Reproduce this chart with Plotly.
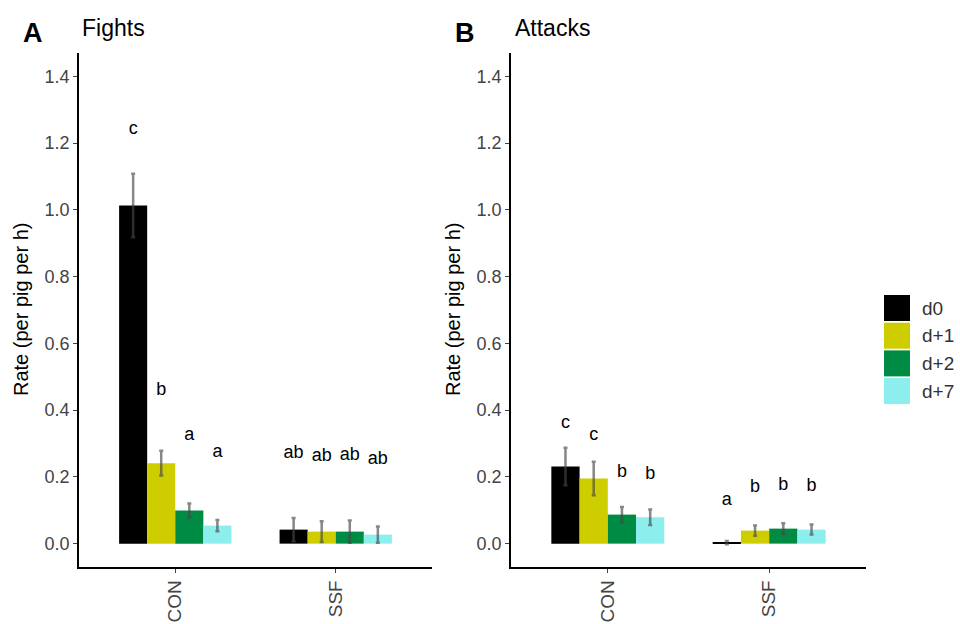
import plotly.graph_objects as go

# ---------------- data ----------------
categories = ["CON", "SSF"]
series = ["d0", "d+1", "d+2", "d+7"]
colors = ["#000000", "#CDCD00", "#008B45", "#8DEEEE"]

# Fights (panel A): mean and SE per series, [CON, SSF]
fights_mean = {"d0": [1.013, 0.042], "d+1": [0.241, 0.036], "d+2": [0.099, 0.036], "d+7": [0.054, 0.027]}
fights_se = {"d0": [0.095, 0.035], "d+1": [0.037, 0.031], "d+2": [0.021, 0.033], "d+7": [0.017, 0.024]}
fights_letters = {"d0": ["c", "ab"], "d+1": ["b", "ab"], "d+2": ["a", "ab"], "d+7": ["a", "ab"]}
fights_letter_y = {"d0": [1.24, 0.27], "d+1": [0.46, 0.26], "d+2": [0.325, 0.264], "d+7": [0.273, 0.252]}

# Attacks (panel B)
attacks_mean = {"d0": [0.231, 0.003], "d+1": [0.195, 0.039], "d+2": [0.087, 0.045], "d+7": [0.079, 0.042]}
attacks_se = {"d0": [0.056, 0.005], "d+1": [0.050, 0.015], "d+2": [0.023, 0.016], "d+7": [0.023, 0.015]}
attacks_letters = {"d0": ["c", "a"], "d+1": ["c", "b"], "d+2": ["b", "b"], "d+7": ["b", "b"]}
attacks_letter_y = {"d0": [0.36, 0.129], "d+1": [0.324, 0.169], "d+2": [0.214, 0.174], "d+7": [0.207, 0.172]}

y_ticks = [0.0, 0.2, 0.4, 0.6, 0.8, 1.0, 1.2, 1.4]
y_title = "Rate (per pig per h)"

# ---------------- figure ----------------
FONT = "Liberation Sans, Arial, Helvetica, sans-serif"
TICK_COL = "#444444"
bar_w = 0.175
cat_pos = [1, 2]

fig = go.Figure()

panels = [
    ("x", "y", fights_mean, fights_se, fights_letters, fights_letter_y),
    ("x2", "y2", attacks_mean, attacks_se, attacks_letters, attacks_letter_y),
]

for xa, ya, means, ses, letters, ly in panels:
    for i, s in enumerate(series):
        xs = [c + (i - 1.5) * bar_w for c in cat_pos]
        fig.add_trace(go.Bar(
            x=xs, y=means[s], width=bar_w, name=s,
            marker=dict(color=colors[i], line=dict(width=0)),
            error_y=dict(type="data", array=ses[s], visible=True,
                         color="rgba(70,70,70,0.65)", thickness=2.5, width=2),
            xaxis=xa, yaxis=ya, showlegend=False,
        ))
        fig.add_trace(go.Scatter(
            x=xs, y=ly[s], mode="text", text=letters[s],
            textfont=dict(family=FONT, size=18, color="#000000"),
            xaxis=xa, yaxis=ya, showlegend=False, hoverinfo="skip",
        ))

xcommon = dict(
    range=[0.4, 2.6], tickmode="array", tickvals=cat_pos, ticktext=categories,
    tickangle=-90, showline=True, linecolor="#000000", linewidth=1.5,
    ticks="outside", ticklen=4, tickcolor=TICK_COL, tickwidth=1,
    tickfont=dict(family=FONT, size=19, color=TICK_COL),
    showgrid=False, zeroline=False, fixedrange=True,
)
ycommon = dict(
    range=[-0.07, 1.47], tickmode="array", tickvals=y_ticks,
    ticktext=[f"{v:.1f}" for v in y_ticks],
    showline=True, linecolor="#000000", linewidth=1.5,
    ticks="outside", ticklen=4, tickcolor=TICK_COL, tickwidth=1,
    tickfont=dict(family=FONT, size=18, color=TICK_COL),
    showgrid=False, zeroline=False, fixedrange=True,
)

fig.update_layout(
    width=960, height=624,
    margin=dict(l=0, r=0, t=0, b=0),
    paper_bgcolor="white", plot_bgcolor="white",
    barmode="overlay",
    xaxis=dict(domain=[79 / 960, 432 / 960], anchor="y", **xcommon),
    yaxis=dict(domain=[1 - 567 / 624, 1 - 53 / 624], anchor="x", **ycommon),
    xaxis2=dict(domain=[511 / 960, 866 / 960], anchor="y2", **xcommon),
    yaxis2=dict(domain=[1 - 567 / 624, 1 - 53 / 624], anchor="x2", **ycommon),
    showlegend=False,
)

# y-axis titles (placed like ggplot's)
for tx in (21, 453):
    fig.add_annotation(x=tx / 960, y=1 - 310 / 624, xref="paper", yref="paper",
                       text=y_title, textangle=-90, showarrow=False,
                       xanchor="center", yanchor="middle",
                       font=dict(family=FONT, size=20, color="#000000"))

# panel titles
for letter, title, lx, tx in [("A", "Fights", 21, 80), ("B", "Attacks", 453, 513)]:
    fig.add_annotation(x=lx / 960, y=1 - 33 / 624, xref="paper", yref="paper",
                       text=f"<b>{letter}</b>", showarrow=False, xanchor="left", yanchor="middle",
                       font=dict(family=FONT, size=27, color="#000000"))
    fig.add_annotation(x=tx / 960, y=1 - 28 / 624, xref="paper", yref="paper",
                       text=title, showarrow=False, xanchor="left", yanchor="middle",
                       font=dict(family=FONT, size=23, color="#000000"))

# legend (drawn manually for large ggplot-style keys)
key_x0, key_x1 = 884, 910
key_top, key_h, key_pitch = 295, 26, 27.7
for i, s in enumerate(series):
    y0 = key_top + i * key_pitch
    fig.add_shape(type="rect", xref="paper", yref="paper",
                  x0=key_x0 / 960, x1=key_x1 / 960,
                  y0=1 - (y0 + key_h) / 624, y1=1 - y0 / 624,
                  fillcolor=colors[i], line=dict(width=0))
    fig.add_annotation(x=920 / 960, y=1 - (y0 + key_h / 2) / 624, xref="paper", yref="paper",
                       text=s, showarrow=False, xanchor="left", yanchor="middle",
                       font=dict(family=FONT, size=19, color="#333333"))

fig.write_html(
    "out.html",
    config={"displayModeBar": False},
    post_script="document.body.style.margin='0';document.body.style.overflow='hidden';",
)
